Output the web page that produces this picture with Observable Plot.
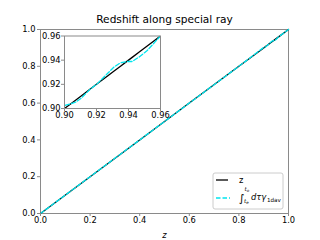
<!DOCTYPE html>
<html>
<head>
<meta charset="utf-8">
<script src="https://cdn.jsdelivr.net/npm/d3@7"></script>
<script src="https://cdn.jsdelivr.net/npm/@observablehq/plot@0.6"></script>
<style>
  html, body { margin: 0; padding: 0; background: white; }
  #wrap { position: relative; width: 320px; height: 240px; font-family: "DejaVu Sans", sans-serif; }
  #wrap svg { position: absolute; }
</style>
</head>
<body>
<div id="wrap"></div>
<script>
// Data
const title = "Redshift along special ray";
const xLabel = "z";
const zValues = [0, 0.2, 0.4, 0.6, 0.8, 0.9, 0.9038, 0.9069, 0.91, 0.9163, 0.9204, 0.9267, 0.9308, 0.935, 0.9392, 0.9423, 0.9465, 0.9517, 0.96, 1.0];
const integralValues = [0, 0.2, 0.4, 0.6, 0.8, 0.9025, 0.9039, 0.9052, 0.908, 0.9163, 0.9204, 0.9287, 0.9342, 0.9378, 0.9389, 0.9389, 0.9425, 0.948, 0.96, 1.0];
const mainTicks = [0, 0.2, 0.4, 0.6, 0.8, 1.0];
const insetTicks = [0.90, 0.92, 0.94, 0.96];
const insetDomain = [0.90, 0.96];

const zData = zValues.map(z => ({x: z, y: z}));
const intData = zValues.map((z, i) => ({x: z, y: integralValues[i]}));

const spine = "#8a8a8a";
const cyan = "#00e5ee";
const fs = "8.3px";

const main = Plot.plot({
  width: 320, height: 240,
  marginLeft: 40, marginRight: 32, marginTop: 29, marginBottom: 27,
  style: {fontFamily: "DejaVu Sans", fontSize: fs, background: "transparent", color: "black"},
  x: {domain: [0, 1]},
  y: {domain: [0, 1]},
  marks: [
    Plot.frame({stroke: spine, strokeWidth: 1}),
    Plot.line(zData, {x: "x", y: "y", stroke: "black", strokeWidth: 1.3}),
    Plot.line(intData, {x: "x", y: "y", stroke: cyan, strokeWidth: 1.3, strokeDasharray: "4.5,2"}),
    Plot.axisX({ticks: mainTicks, tickFormat: d3.format(".1f"), tickSize: 3, tickPadding: 1, stroke: spine, fill: "black",
                label: xLabel, labelAnchor: "center", labelArrow: "none", labelOffset: 24}),
    Plot.axisY({ticks: mainTicks, tickFormat: d3.format(".1f"), tickSize: 3, tickPadding: 2, stroke: spine, fill: "black", label: null}),
    Plot.text([title], {frameAnchor: "top", dy: -14, fontSize: "10.6px", fill: "black"})
  ]
});
main.style.left = "0px"; main.style.top = "0px";
document.getElementById("wrap").appendChild(main);
// italic x label
main.querySelectorAll("text").forEach(t => { if (t.textContent === xLabel) t.style.fontStyle = "italic"; });

const inset = Plot.plot({
  width: 132, height: 89,
  marginLeft: 24, marginRight: 12, marginTop: 4.5, marginBottom: 12,
  style: {fontFamily: "DejaVu Sans", fontSize: fs, background: "transparent", color: "black", overflow: "visible"},
  x: {domain: insetDomain},
  y: {domain: insetDomain},
  marks: [
    Plot.frame({fill: "white", stroke: null}),
    Plot.line(zData, {x: "x", y: "y", stroke: "black", strokeWidth: 1.3, clip: true}),
    Plot.line(intData, {x: "x", y: "y", stroke: cyan, strokeWidth: 1.3, strokeDasharray: "4.5,2", clip: true}),
    Plot.frame({stroke: spine, strokeWidth: 1}),
    Plot.axisX({ticks: insetTicks, tickFormat: d3.format(".2f"), tickSize: 3, tickPadding: 1, stroke: spine, fill: "black", label: null}),
    Plot.axisY({ticks: insetTicks, tickFormat: d3.format(".2f"), tickSize: 3, tickPadding: 1, stroke: spine, fill: "black", label: null})
  ]
});
inset.style.left = "40px"; inset.style.top = "31px";
document.getElementById("wrap").appendChild(inset);

// Legend
const ns = "http://www.w3.org/2000/svg";
const leg = document.createElementNS(ns, "svg");
leg.setAttribute("width", 74); leg.setAttribute("height", 40);
leg.style.left = "212px"; leg.style.top = "172px";
leg.innerHTML = `
  <rect x="1" y="1" width="70" height="36" rx="2" fill="white" fill-opacity="0.8" stroke="#cccccc" stroke-width="1"/>
  <line x1="4" x2="16" y1="8" y2="8" stroke="black" stroke-width="1.3"/>
  <text x="27" y="11" font-family="DejaVu Sans" font-size="8.3px" fill="black">z</text>
  <line x1="4" x2="18" y1="26" y2="26" stroke="${cyan}" stroke-width="1.3" stroke-dasharray="4.5,2"/>
  <text x="27" y="30" font-family="DejaVu Sans" font-size="11px" fill="black">∫</text>
  <text x="32.5" y="19" font-family="DejaVu Sans" font-size="5.6px" font-style="italic" fill="black">t<tspan dy="1" font-size="4px">o</tspan></text>
  <text x="32" y="30.5" font-family="DejaVu Sans" font-size="5.6px" font-style="italic" fill="black">t<tspan dy="1" font-size="4px">e</tspan></text>
  <text x="39" y="28" font-family="DejaVu Sans" font-size="8.3px" font-style="italic" fill="black">dτγ</text>
  <text x="55" y="29.5" font-family="DejaVu Sans" font-size="5.6px" fill="black">1dav</text>
`;
document.getElementById("wrap").appendChild(leg);
</script>
</body>
</html>
